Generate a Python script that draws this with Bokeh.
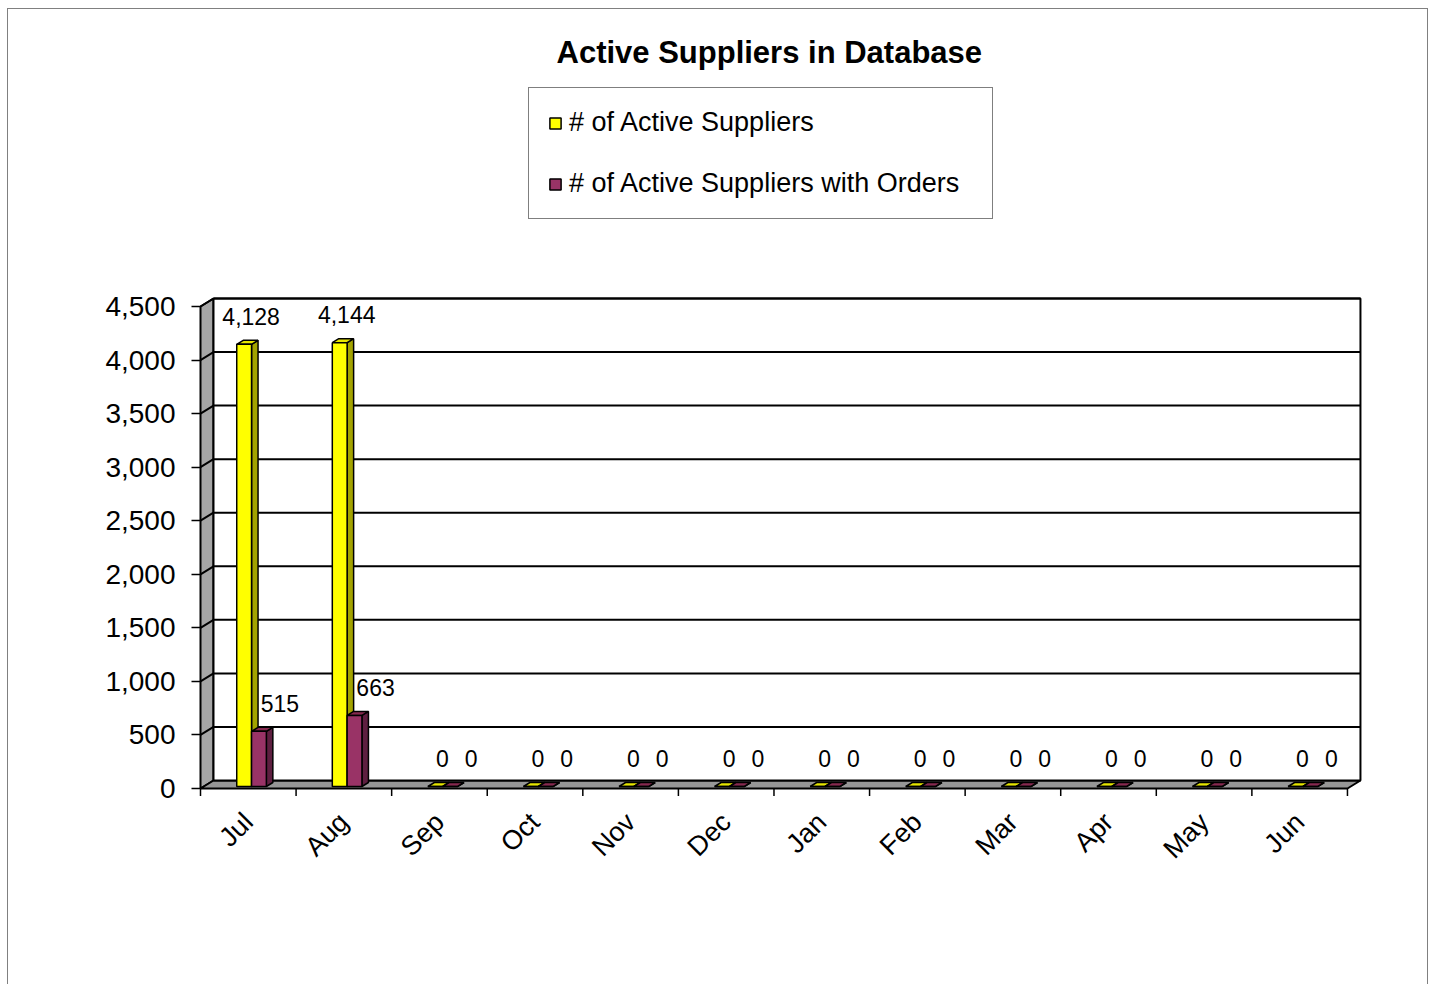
from bokeh.plotting import figure
from bokeh.models import (FixedTicker, Legend, LegendItem, ColumnDataSource,
                          Range1d, NumeralTickFormatter)
from bokeh.embed import file_html
from bokeh.resources import INLINE
from bokeh.core.properties import value
import math

# ---------------- data ----------------
months = ["Jul", "Aug", "Sep", "Oct", "Nov", "Dec", "Jan", "Feb", "Mar", "Apr", "May", "Jun"]
active_suppliers = [4128, 4144, 0, 0, 0, 0, 0, 0, 0, 0, 0, 0]
active_with_orders = [515, 663, 0, 0, 0, 0, 0, 0, 0, 0, 0, 0]
series_names = ["# of Active Suppliers", "# of Active Suppliers with Orders"]
y_ticks = [0, 500, 1000, 1500, 2000, 2500, 3000, 3500, 4000, 4500]
title_text = "Active Suppliers in Database"

# ---------------- layout (page pixels) ----------------
OX, OY = 8, 9                     # page offset of figure canvas (margin + border)
W, H = 1421, 976
PFL, PFR, PFT, PFB = 197, 1365, 75, 797   # frame edges (page)
PX0, CAT = 200.0, 95.58                   # front x of first category, px per category
PY0, PYTOP = 788.0, 306.0                 # front y of 0 and of max tick
YMAX = y_ticks[-1]
K = (PY0 - PYTOP) / YMAX                  # px per value unit
DX = 13.0 / CAT                           # depth offset in category units
DY = 8.0 / K                              # depth offset in value units
Z0, Z1 = 0.25, 0.75                       # bar depth span
BW = 0.155                                # bar width (category units)
N = len(months)

FONT = "Liberation Sans"

p = figure(width=W, height=H, output_backend="svg", toolbar_location=None,
           x_range=Range1d((PFL - PX0) / CAT, (PFR - PX0) / CAT),
           y_range=Range1d(-(PFB - PY0) / K, (PY0 - PFT) / K),
           min_border_left=PFL - OX, min_border_right=W - (PFR - OX),
           min_border_top=PFT - OY, min_border_bottom=H - (PFB - OY))
p.outline_line_color = None
p.xgrid.visible = False
p.ygrid.visible = False
p.background_fill_color = "white"
p.border_fill_color = "white"
p.styles = {"margin-left": "7px", "margin-top": "8px",
            "border-top": "1px solid #808080", "border-left": "1px solid #808080",
            "border-right": "1px solid #808080", "box-sizing": "border-box"}

# ---------------- title ----------------
p.title.text = title_text
p.title.text_font = FONT
p.title.text_font_size = "31px"
p.title.text_font_style = "bold"
p.title.text_color = "black"
p.title.align = "left"
p.title.offset = 359
p.title.standoff = 12

# ---------------- walls ----------------
wall_line = dict(line_color="black", line_width=2)
p.patch([0, DX, DX, 0], [0, DY, YMAX + DY, YMAX], fill_color="#A6A6A6", **wall_line)
p.patch([0, N, N + DX, DX], [0, 0, DY, DY], fill_color="#969696", **wall_line)
p.patch([DX, N + DX, N + DX, DX], [DY, DY, YMAX + DY, YMAX + DY], fill_color="white", **wall_line)
gl = y_ticks[1:]
p.segment(x0=[DX] * len(gl), y0=[v + DY for v in gl], x1=[N + DX] * len(gl),
          y1=[v + DY for v in gl], **wall_line)
p.segment(x0=[0] * len(gl), y0=gl, x1=[DX] * len(gl), y1=[v + DY for v in gl], **wall_line)
bx = list(range(N + 1))
p.segment(x0=bx, y0=[0] * len(bx), x1=bx, y1=[-7.5 / K] * len(bx), line_color="black", line_width=1.5)

# ---------------- bars ----------------
def draw_series(vals, offset, front, side, top, lab_dx):
    x0s = [i + 0.5 + offset for i in range(N)]
    x1s = [x + BW for x in x0s]
    fx0 = [x + Z0 * DX for x in x0s]
    fx1 = [x + Z0 * DX for x in x1s]
    fb = [Z0 * DY] * N
    ft = [v + Z0 * DY for v in vals]
    d = (Z1 - Z0)
    sxs = [[a, a + d * DX, a + d * DX, a] for a in fx1]
    sys_ = [[Z0 * DY, Z1 * DY, v + Z1 * DY, v + Z0 * DY] for v in vals]
    p.patches(sxs, sys_, fill_color=side, line_color="black", line_width=1.5)
    txs = [[a, b, b + d * DX, a + d * DX] for a, b in zip(fx0, fx1)]
    tys = [[v + Z0 * DY, v + Z0 * DY, v + Z1 * DY, v + Z1 * DY] for v in vals]
    p.patches(txs, tys, fill_color=top, line_color="black", line_width=1.5)
    r = p.quad(left=fx0, right=fx1, bottom=fb, top=ft, fill_color=front,
               line_color="black", line_width=1.5)
    src = ColumnDataSource(dict(x=[(a + b) / 2 for a, b in zip(fx0, fx1)], y=ft,
                                t=["{:,}".format(v) for v in vals]))
    p.text(x="x", y="y", text="t", source=src, x_offset=lab_dx, y_offset=-28,
           text_font=value(FONT), text_font_size="23px", text_align="center",
           text_baseline="middle", text_color="black")
    return r

r1 = draw_series(active_suppliers, -BW, "#FFFF00", "#A3A300", "#E6E600", 7)
r2 = draw_series(active_with_orders, 0.0, "#993366", "#5E1F40", "#86294F", 21)

# ---------------- axes ----------------
p.yaxis.ticker = FixedTicker(ticks=y_ticks)
p.yaxis.formatter = NumeralTickFormatter(format="0,0")
p.yaxis.axis_line_color = None
p.yaxis.major_tick_out = 6
p.yaxis.major_tick_in = 3
p.yaxis.major_tick_line_width = 1.5
p.yaxis.minor_tick_line_color = None
p.yaxis.major_label_standoff = 16
p.yaxis.major_label_text_font = FONT
p.yaxis.major_label_text_font_size = "28px"
p.yaxis.major_label_text_color = "black"

centers = [i + 0.5 for i in range(N)]
p.xaxis.ticker = FixedTicker(ticks=centers)
p.xaxis.major_label_overrides = {c: m for c, m in zip(centers, months)}
p.xaxis.axis_line_color = None
p.xaxis.major_tick_line_color = None
p.xaxis.minor_tick_line_color = None
p.xaxis.major_label_orientation = math.pi / 4
p.xaxis.major_label_standoff = 14
p.xaxis.major_label_text_font = FONT
p.xaxis.major_label_text_font_size = "27px"
p.xaxis.major_label_text_color = "black"

# ---------------- legend ----------------
legend = Legend(items=[LegendItem(label=series_names[0], renderers=[r1]),
                       LegendItem(label=series_names[1], renderers=[r2])],
                location=(528 - PFL, PFB - 219), orientation="vertical",
                padding=19, spacing=30, label_width=404, glyph_width=14, glyph_height=14,
                label_standoff=7, margin=0, border_line_color="black", border_line_width=1,
                background_fill_color="white", background_fill_alpha=1.0,
                label_text_font=FONT, label_text_font_size="27px", label_text_color="black")
p.add_layout(legend, "center")

open("out.html", "w").write(file_html(p, INLINE))
